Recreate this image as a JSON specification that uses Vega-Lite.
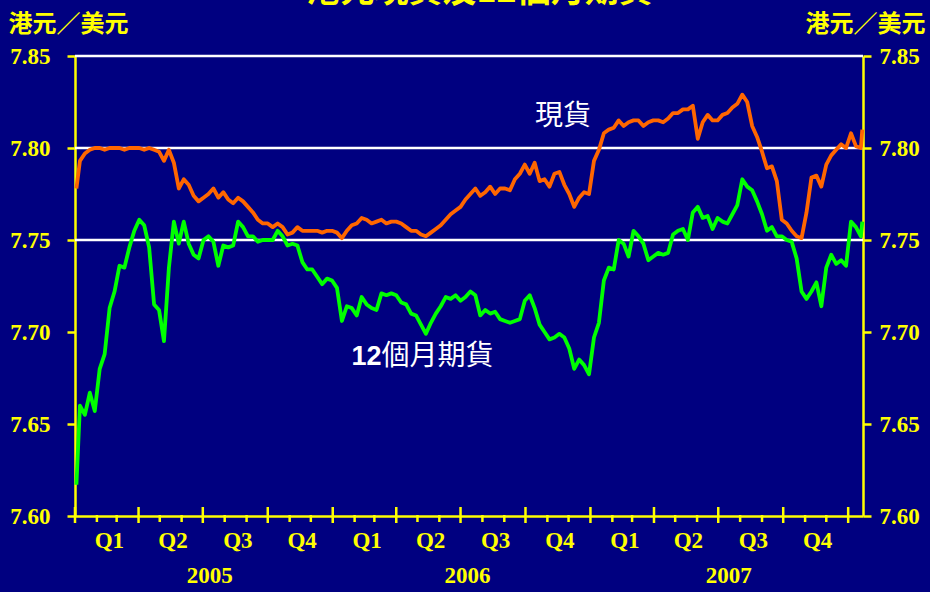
{
  "$schema": "https://vega.github.io/schema/vega-lite/v6.json",
  "width": 788,
  "height": 460,
  "autosize": {"type": "none"},
  "padding": {"left": 75, "top": 56, "right": 67, "bottom": 76},
  "background": "#000080",
  "config": {
    "view": {"stroke": null},
    "axis": {
      "domainColor": "#FFFF00",
      "tickColor": "#FFFF00",
      "labelColor": "#FFFF00",
      "titleColor": "#FFFF00",
      "labelFont": "Liberation Serif",
      "labelFontWeight": "bold",
      "labelFontSize": 23,
      "domainWidth": 2.5,
      "tickWidth": 2.5,
      "grid": false,
      "labelFlush": false,
      "labelOverlap": false
    }
  },
  "datasets": {
    "fx": [
      {"d":"2005-01-03","s":7.778,"f":7.617},
      {"d":"2005-01-08","s":7.793,"f":7.660},
      {"d":"2005-01-15","s":7.797,"f":7.655},
      {"d":"2005-01-22","s":7.799,"f":7.667},
      {"d":"2005-01-29","s":7.800,"f":7.657},
      {"d":"2005-02-05","s":7.800,"f":7.680},
      {"d":"2005-02-12","s":7.799,"f":7.688},
      {"d":"2005-02-19","s":7.800,"f":7.713},
      {"d":"2005-02-26","s":7.800,"f":7.722},
      {"d":"2005-03-05","s":7.800,"f":7.736},
      {"d":"2005-03-12","s":7.799,"f":7.735},
      {"d":"2005-03-19","s":7.800,"f":7.746},
      {"d":"2005-03-26","s":7.800,"f":7.755},
      {"d":"2005-04-02","s":7.800,"f":7.761},
      {"d":"2005-04-09","s":7.799,"f":7.758},
      {"d":"2005-04-16","s":7.800,"f":7.746},
      {"d":"2005-04-23","s":7.799,"f":7.715},
      {"d":"2005-04-30","s":7.798,"f":7.712},
      {"d":"2005-05-07","s":7.793,"f":7.695},
      {"d":"2005-05-14","s":7.799,"f":7.735},
      {"d":"2005-05-21","s":7.792,"f":7.760},
      {"d":"2005-05-28","s":7.778,"f":7.748},
      {"d":"2005-06-04","s":7.783,"f":7.760},
      {"d":"2005-06-11","s":7.780,"f":7.748},
      {"d":"2005-06-18","s":7.774,"f":7.742},
      {"d":"2005-06-25","s":7.771,"f":7.740},
      {"d":"2005-07-02","s":7.773,"f":7.750},
      {"d":"2005-07-09","s":7.775,"f":7.752},
      {"d":"2005-07-16","s":7.778,"f":7.749},
      {"d":"2005-07-23","s":7.773,"f":7.736},
      {"d":"2005-07-30","s":7.776,"f":7.747},
      {"d":"2005-08-06","s":7.772,"f":7.746},
      {"d":"2005-08-13","s":7.770,"f":7.747},
      {"d":"2005-08-20","s":7.773,"f":7.760},
      {"d":"2005-08-27","s":7.771,"f":7.757},
      {"d":"2005-09-03","s":7.768,"f":7.752},
      {"d":"2005-09-10","s":7.765,"f":7.752},
      {"d":"2005-09-17","s":7.761,"f":7.749},
      {"d":"2005-09-24","s":7.759,"f":7.750},
      {"d":"2005-10-01","s":7.759,"f":7.750},
      {"d":"2005-10-08","s":7.757,"f":7.750},
      {"d":"2005-10-15","s":7.759,"f":7.755},
      {"d":"2005-10-22","s":7.757,"f":7.752},
      {"d":"2005-10-29","s":7.753,"f":7.747},
      {"d":"2005-11-05","s":7.754,"f":7.748},
      {"d":"2005-11-12","s":7.757,"f":7.747},
      {"d":"2005-11-19","s":7.755,"f":7.738},
      {"d":"2005-11-26","s":7.755,"f":7.734},
      {"d":"2005-12-03","s":7.755,"f":7.734},
      {"d":"2005-12-10","s":7.755,"f":7.730},
      {"d":"2005-12-17","s":7.754,"f":7.726},
      {"d":"2005-12-24","s":7.755,"f":7.729},
      {"d":"2005-12-31","s":7.755,"f":7.728},
      {"d":"2006-01-07","s":7.754,"f":7.724},
      {"d":"2006-01-14","s":7.751,"f":7.706},
      {"d":"2006-01-21","s":7.755,"f":7.714},
      {"d":"2006-01-28","s":7.758,"f":7.713},
      {"d":"2006-02-04","s":7.759,"f":7.709},
      {"d":"2006-02-11","s":7.762,"f":7.719},
      {"d":"2006-02-18","s":7.761,"f":7.715},
      {"d":"2006-02-25","s":7.759,"f":7.713},
      {"d":"2006-03-04","s":7.760,"f":7.712},
      {"d":"2006-03-11","s":7.761,"f":7.721},
      {"d":"2006-03-18","s":7.759,"f":7.720},
      {"d":"2006-03-25","s":7.760,"f":7.721},
      {"d":"2006-04-01","s":7.760,"f":7.720},
      {"d":"2006-04-08","s":7.759,"f":7.716},
      {"d":"2006-04-15","s":7.757,"f":7.715},
      {"d":"2006-04-22","s":7.755,"f":7.710},
      {"d":"2006-04-29","s":7.755,"f":7.709},
      {"d":"2006-05-06","s":7.753,"f":7.704},
      {"d":"2006-05-13","s":7.752,"f":7.699},
      {"d":"2006-05-20","s":7.754,"f":7.705},
      {"d":"2006-05-27","s":7.756,"f":7.710},
      {"d":"2006-06-03","s":7.758,"f":7.714},
      {"d":"2006-06-10","s":7.761,"f":7.719},
      {"d":"2006-06-17","s":7.764,"f":7.718},
      {"d":"2006-06-24","s":7.766,"f":7.720},
      {"d":"2006-07-01","s":7.768,"f":7.717},
      {"d":"2006-07-08","s":7.772,"f":7.719},
      {"d":"2006-07-15","s":7.775,"f":7.722},
      {"d":"2006-07-22","s":7.778,"f":7.720},
      {"d":"2006-07-29","s":7.774,"f":7.709},
      {"d":"2006-08-05","s":7.776,"f":7.712},
      {"d":"2006-08-12","s":7.779,"f":7.710},
      {"d":"2006-08-19","s":7.775,"f":7.711},
      {"d":"2006-08-26","s":7.778,"f":7.707},
      {"d":"2006-09-02","s":7.778,"f":7.706},
      {"d":"2006-09-09","s":7.777,"f":7.705},
      {"d":"2006-09-16","s":7.783,"f":7.706},
      {"d":"2006-09-23","s":7.786,"f":7.707},
      {"d":"2006-09-30","s":7.791,"f":7.717},
      {"d":"2006-10-07","s":7.786,"f":7.720},
      {"d":"2006-10-14","s":7.792,"f":7.713},
      {"d":"2006-10-21","s":7.782,"f":7.704},
      {"d":"2006-10-28","s":7.783,"f":7.700},
      {"d":"2006-11-04","s":7.779,"f":7.696},
      {"d":"2006-11-11","s":7.786,"f":7.697},
      {"d":"2006-11-18","s":7.787,"f":7.699},
      {"d":"2006-11-25","s":7.780,"f":7.697},
      {"d":"2006-12-02","s":7.775,"f":7.691},
      {"d":"2006-12-09","s":7.768,"f":7.680},
      {"d":"2006-12-16","s":7.773,"f":7.685},
      {"d":"2006-12-23","s":7.776,"f":7.682},
      {"d":"2006-12-30","s":7.775,"f":7.677},
      {"d":"2007-01-06","s":7.793,"f":7.697},
      {"d":"2007-01-13","s":7.799,"f":7.705},
      {"d":"2007-01-20","s":7.808,"f":7.728},
      {"d":"2007-01-27","s":7.810,"f":7.735},
      {"d":"2007-02-03","s":7.811,"f":7.734},
      {"d":"2007-02-10","s":7.815,"f":7.750},
      {"d":"2007-02-17","s":7.812,"f":7.748},
      {"d":"2007-02-24","s":7.814,"f":7.741},
      {"d":"2007-03-03","s":7.815,"f":7.755},
      {"d":"2007-03-10","s":7.815,"f":7.752},
      {"d":"2007-03-17","s":7.812,"f":7.748},
      {"d":"2007-03-24","s":7.814,"f":7.739},
      {"d":"2007-03-31","s":7.815,"f":7.741},
      {"d":"2007-04-07","s":7.815,"f":7.743},
      {"d":"2007-04-14","s":7.814,"f":7.742},
      {"d":"2007-04-21","s":7.816,"f":7.743},
      {"d":"2007-04-28","s":7.819,"f":7.753},
      {"d":"2007-05-05","s":7.819,"f":7.755},
      {"d":"2007-05-12","s":7.821,"f":7.756},
      {"d":"2007-05-19","s":7.821,"f":7.750},
      {"d":"2007-05-26","s":7.823,"f":7.765},
      {"d":"2007-06-02","s":7.805,"f":7.768},
      {"d":"2007-06-09","s":7.814,"f":7.762},
      {"d":"2007-06-16","s":7.818,"f":7.763},
      {"d":"2007-06-23","s":7.815,"f":7.756},
      {"d":"2007-06-30","s":7.815,"f":7.762},
      {"d":"2007-07-07","s":7.818,"f":7.760},
      {"d":"2007-07-14","s":7.819,"f":7.759},
      {"d":"2007-07-21","s":7.822,"f":7.764},
      {"d":"2007-07-28","s":7.824,"f":7.769},
      {"d":"2007-08-04","s":7.829,"f":7.783},
      {"d":"2007-08-11","s":7.825,"f":7.779},
      {"d":"2007-08-18","s":7.812,"f":7.777},
      {"d":"2007-08-25","s":7.806,"f":7.771},
      {"d":"2007-09-01","s":7.798,"f":7.764},
      {"d":"2007-09-08","s":7.789,"f":7.755},
      {"d":"2007-09-15","s":7.790,"f":7.757},
      {"d":"2007-09-22","s":7.782,"f":7.752},
      {"d":"2007-09-29","s":7.761,"f":7.752},
      {"d":"2007-10-06","s":7.759,"f":7.750},
      {"d":"2007-10-13","s":7.755,"f":7.749},
      {"d":"2007-10-20","s":7.752,"f":7.740},
      {"d":"2007-10-27","s":7.751,"f":7.722},
      {"d":"2007-11-03","s":7.765,"f":7.718},
      {"d":"2007-11-10","s":7.784,"f":7.722},
      {"d":"2007-11-17","s":7.785,"f":7.727},
      {"d":"2007-11-24","s":7.779,"f":7.714},
      {"d":"2007-12-01","s":7.791,"f":7.735},
      {"d":"2007-12-08","s":7.796,"f":7.742},
      {"d":"2007-12-15","s":7.799,"f":7.737},
      {"d":"2007-12-22","s":7.802,"f":7.739},
      {"d":"2007-12-29","s":7.800,"f":7.736},
      {"d":"2008-01-05","s":7.808,"f":7.760},
      {"d":"2008-01-12","s":7.801,"f":7.757},
      {"d":"2008-01-19","s":7.800,"f":7.752},
      {"d":"2008-01-21","s":7.810,"f":7.760}
    ],
    "major": [
      {"t":"2005-01-01"},{"t":"2005-04-01"},{"t":"2005-07-01"},{"t":"2005-10-01"},
      {"t":"2006-01-01"},{"t":"2006-04-01"},{"t":"2006-07-01"},{"t":"2006-10-01"},
      {"t":"2007-01-01"},{"t":"2007-04-01"},{"t":"2007-07-01"},{"t":"2007-10-01"},
      {"t":"2008-01-01"}
    ],
    "minor": [
      {"t":"2005-02-01"},{"t":"2005-03-01"},{"t":"2005-05-01"},{"t":"2005-06-01"},
      {"t":"2005-08-01"},{"t":"2005-09-01"},{"t":"2005-11-01"},{"t":"2005-12-01"},
      {"t":"2006-02-01"},{"t":"2006-03-01"},{"t":"2006-05-01"},{"t":"2006-06-01"},
      {"t":"2006-08-01"},{"t":"2006-09-01"},{"t":"2006-11-01"},{"t":"2006-12-01"},
      {"t":"2007-02-01"},{"t":"2007-03-01"},{"t":"2007-05-01"},{"t":"2007-06-01"},
      {"t":"2007-08-01"},{"t":"2007-09-01"},{"t":"2007-11-01"},{"t":"2007-12-01"}
    ],
    "grid": [{"g":7.75},{"g":7.80},{"g":7.85}],
    "titleRow": [{"label":"港元現貨及12個月期貨"}],
    "spotLabel": [{"d":"2006-11-23","v":7.8168,"label":"現貨"}],
    "futLabel": [{"d":"2006-03-11","v":7.6864,"a":"12","b":"個月期貨"}]
  },
  "layer": [
    {
      "data": {"name": "grid"},
      "mark": {"type": "rule", "color": "#FFFFFF", "strokeWidth": 2.5},
      "encoding": {
        "y": {
          "field": "g", "type": "quantitative",
          "scale": {"domain": [7.6, 7.85], "nice": false, "zero": false},
          "axis": {
            "orient": "left",
            "values": [7.6, 7.65, 7.7, 7.75, 7.8, 7.85],
            "format": ".2f",
            "tickSize": 8,
            "labelPadding": 17,
            "title": "港元／美元",
            "titleAngle": 0,
            "titleAlign": "left",
            "titleBaseline": "middle",
            "titleX": -67,
            "titleY": -32,
            "titleFont": "Noto Sans CJK TC",
            "titleFontSize": 24,
            "titleFontWeight": "bold"
          }
        }
      }
    },
    {
      "data": {"name": "fx"},
      "transform": [{"fold": ["s", "f"], "as": ["series", "value"]}],
      "mark": {"type": "line", "strokeWidth": 3.8, "strokeJoin": "round"},
      "encoding": {
        "x": {
          "field": "d", "type": "temporal",
          "scale": {
            "type": "utc",
            "domain": [
              {"year": 2005, "month": 1, "date": 1, "utc": true},
              {"year": 2008, "month": 1, "date": 22, "utc": true}
            ]
          },
          "axis": {
            "orient": "bottom",
            "values": [
              {"year": 2005, "month": 2, "date": 18, "utc": true},
              {"year": 2005, "month": 5, "date": 19, "utc": true},
              {"year": 2005, "month": 8, "date": 19, "utc": true},
              {"year": 2005, "month": 11, "date": 18, "utc": true},
              {"year": 2006, "month": 2, "date": 18, "utc": true},
              {"year": 2006, "month": 5, "date": 19, "utc": true},
              {"year": 2006, "month": 8, "date": 19, "utc": true},
              {"year": 2006, "month": 11, "date": 18, "utc": true},
              {"year": 2007, "month": 2, "date": 18, "utc": true},
              {"year": 2007, "month": 5, "date": 19, "utc": true},
              {"year": 2007, "month": 8, "date": 19, "utc": true},
              {"year": 2007, "month": 11, "date": 18, "utc": true}
            ],
            "labelExpr": "'Q' + (floor(utcmonth(datum.value) / 3) + 1)",
            "ticks": false,
            "tickSize": 0,
            "labelPadding": 13,
            "title": null
          }
        },
        "y": {"field": "value", "type": "quantitative", "axis": null},
        "color": {
          "field": "series", "type": "nominal",
          "scale": {"domain": ["s", "f"], "range": ["#FF6600", "#00FF00"]},
          "legend": null
        }
      }
    },
    {
      "data": {"name": "major"},
      "mark": {"type": "tick", "orient": "vertical", "size": 16, "thickness": 2.5, "color": "#FFFF00", "opacity": 1, "yOffset": -1},
      "encoding": {
        "x": {"field": "t", "type": "temporal", "axis": null},
        "y": {"datum": 7.6, "type": "quantitative", "axis": null}
      }
    },
    {
      "data": {"name": "minor"},
      "mark": {"type": "tick", "orient": "vertical", "size": 7, "thickness": 2.5, "color": "#FFFF00", "opacity": 1, "yOffset": 2.5},
      "encoding": {
        "x": {"field": "t", "type": "temporal", "axis": null},
        "y": {"datum": 7.6, "type": "quantitative", "axis": null}
      }
    },
    {
      "data": {"name": "titleRow"},
      "mark": {"type": "text", "color": "#FFFF00", "font": "Noto Sans CJK TC", "fontSize": 34, "fontWeight": "bold", "align": "center", "baseline": "alphabetic"},
      "encoding": {
        "x": {"datum": {"year": 2006, "month": 7, "date": 28, "utc": true}, "type": "temporal", "axis": null},
        "y": {"datum": 7.8793, "type": "quantitative", "axis": null},
        "text": {"field": "label"}
      }
    },
    {
      "data": {"name": "spotLabel"},
      "mark": {"type": "text", "color": "#FFFFFF", "font": "Noto Sans CJK TC", "fontSize": 28, "align": "center", "baseline": "middle"},
      "encoding": {
        "x": {
          "field": "d", "type": "temporal",
          "axis": {
            "orient": "bottom",
            "values": [
              {"year": 2005, "month": 7, "date": 10, "utc": true},
              {"year": 2006, "month": 7, "date": 10, "utc": true},
              {"year": 2007, "month": 7, "date": 15, "utc": true}
            ],
            "format": "%Y",
            "ticks": false,
            "tickSize": 0,
            "domain": false,
            "labelPadding": 48,
            "title": null
          }
        },
        "y": {
          "field": "v", "type": "quantitative",
          "axis": {
            "orient": "right",
            "values": [7.6, 7.65, 7.7, 7.75, 7.8, 7.85],
            "format": ".2f",
            "tickSize": 8,
            "labelPadding": 8,
            "title": "港元／美元",
            "titleAngle": 0,
            "titleAlign": "right",
            "titleBaseline": "middle",
            "titleX": 62,
            "titleY": -32,
            "titleFont": "Noto Sans CJK TC",
            "titleFontSize": 24,
            "titleFontWeight": "bold"
          }
        },
        "text": {"field": "label"}
      }
    },
    {
      "data": {"name": "futLabel"},
      "mark": {"type": "text", "color": "#FFFFFF", "font": "Liberation Sans", "fontWeight": "bold", "fontSize": 27, "align": "right", "baseline": "middle"},
      "encoding": {
        "x": {"field": "d", "type": "temporal", "axis": null},
        "y": {"field": "v", "type": "quantitative", "axis": null},
        "text": {"field": "a"}
      }
    },
    {
      "data": {"name": "futLabel"},
      "mark": {"type": "text", "color": "#FFFFFF", "font": "Noto Sans CJK TC", "fontSize": 28, "align": "left", "baseline": "middle"},
      "encoding": {
        "x": {"field": "d", "type": "temporal", "axis": null},
        "y": {"field": "v", "type": "quantitative", "axis": null},
        "text": {"field": "b"}
      }
    }
  ],
  "resolve": {"axis": {"x": "independent", "y": "independent"}}
}
